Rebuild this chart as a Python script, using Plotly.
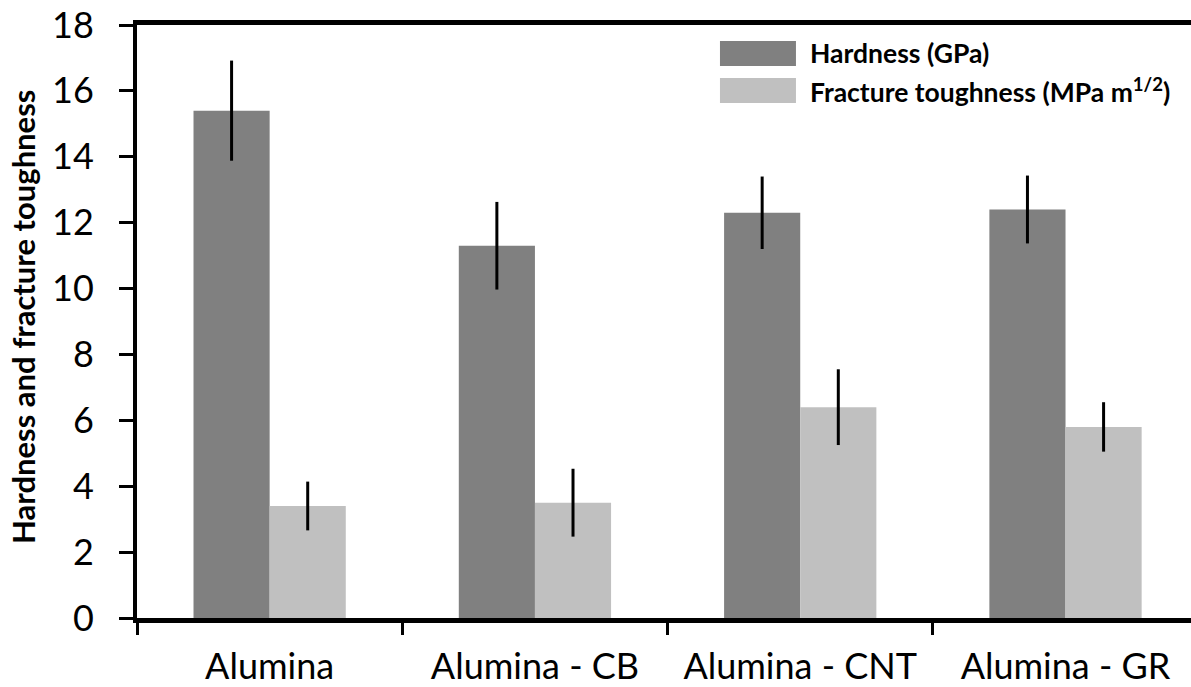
import plotly.graph_objects as go

categories = ["Alumina", "Alumina - CB", "Alumina - CNT", "Alumina - GR"]
hardness = [15.4, 11.3, 12.3, 12.4]
hardness_err = [1.52, 1.33, 1.1, 1.03]
toughness = [3.4, 3.5, 6.4, 5.8]
toughness_err = [0.74, 1.03, 1.15, 0.75]
y_ticks = [0, 2, 4, 6, 8, 10, 12, 14, 16, 18]

hard_name = "Hardness (GPa)"
tough_name = "Fracture toughness (MPa m<sup>1/2</sup>)"
y_title = "Hardness and fracture toughness"
DARK = "#808080"
LIGHT = "#c0c0c0"
FONT = "Lato"

fig = go.Figure()
fig.add_trace(go.Bar(
    x=categories, y=hardness, name=hard_name, marker_color=DARK,
    marker_line_width=0,
    error_y=dict(type="data", array=hardness_err, color="black", thickness=3, width=0),
))
fig.add_trace(go.Bar(
    x=categories, y=toughness, name=tough_name, marker_color=LIGHT,
    marker_line_width=0,
    error_y=dict(type="data", array=toughness_err, color="black", thickness=3, width=0),
))

# custom legend (large swatches)
legend_items = [(hard_name, DARK, 0.9730, 0.9309), (tough_name, LIGHT, 0.9106, 0.8685)]
shapes = []
annotations = []
for name, col, y1, y0 in legend_items:
    shapes.append(dict(type="rect", xref="paper", yref="paper", x0=0.5531, x1=0.6252,
                       y0=y0, y1=y1, fillcolor=col, line_width=0))
    annotations.append(dict(xref="paper", yref="paper", x=0.6366, y=(y0 + y1) / 2,
                            text="<b>" + name + "</b>", showarrow=False, xanchor="left",
                            yanchor="middle", font=dict(family=FONT, size=26.5, color="black")))

# y-axis title
annotations.append(dict(xref="paper", yref="paper", x=-0.108, y=0.508, textangle=-90,
                        text="<b>" + y_title + "</b>", showarrow=False,
                        xanchor="center", yanchor="middle",
                        font=dict(family=FONT, size=31, color="black")))

fig.update_layout(
    width=1191, height=687,
    margin=dict(l=137, r=0, t=25, b=69),
    paper_bgcolor="white", plot_bgcolor="white",
    barmode="group", bargap=0.426, bargroupgap=0,
    showlegend=False,
    shapes=shapes, annotations=annotations,
    font=dict(family=FONT, color="black"),
)
fig.update_xaxes(
    type="category", range=[-0.5, 3.473], automargin=False,
    showline=True, linecolor="black", linewidth=5, mirror=True,
    ticks="outside", tickson="boundaries", ticklen=12, tickwidth=3, tickcolor="black",
    tickfont=dict(family=FONT, size=36, color="black"),
    ticklabelstandoff=13,
    showgrid=False, zeroline=False,
)
fig.update_yaxes(
    range=[0, 18], tickvals=y_ticks, automargin=False,
    showline=True, linecolor="black", linewidth=4,
    ticks="outside", ticklen=14, tickwidth=3, tickcolor="black",
    tickfont=dict(family=FONT, size=36, color="black"),
    ticklabelstandoff=18,
    showgrid=False, zeroline=False,
)

fig.write_html("out.html", config={"displayModeBar": False},
               post_script="document.body.style.margin='0';document.body.style.overflow='hidden';")
